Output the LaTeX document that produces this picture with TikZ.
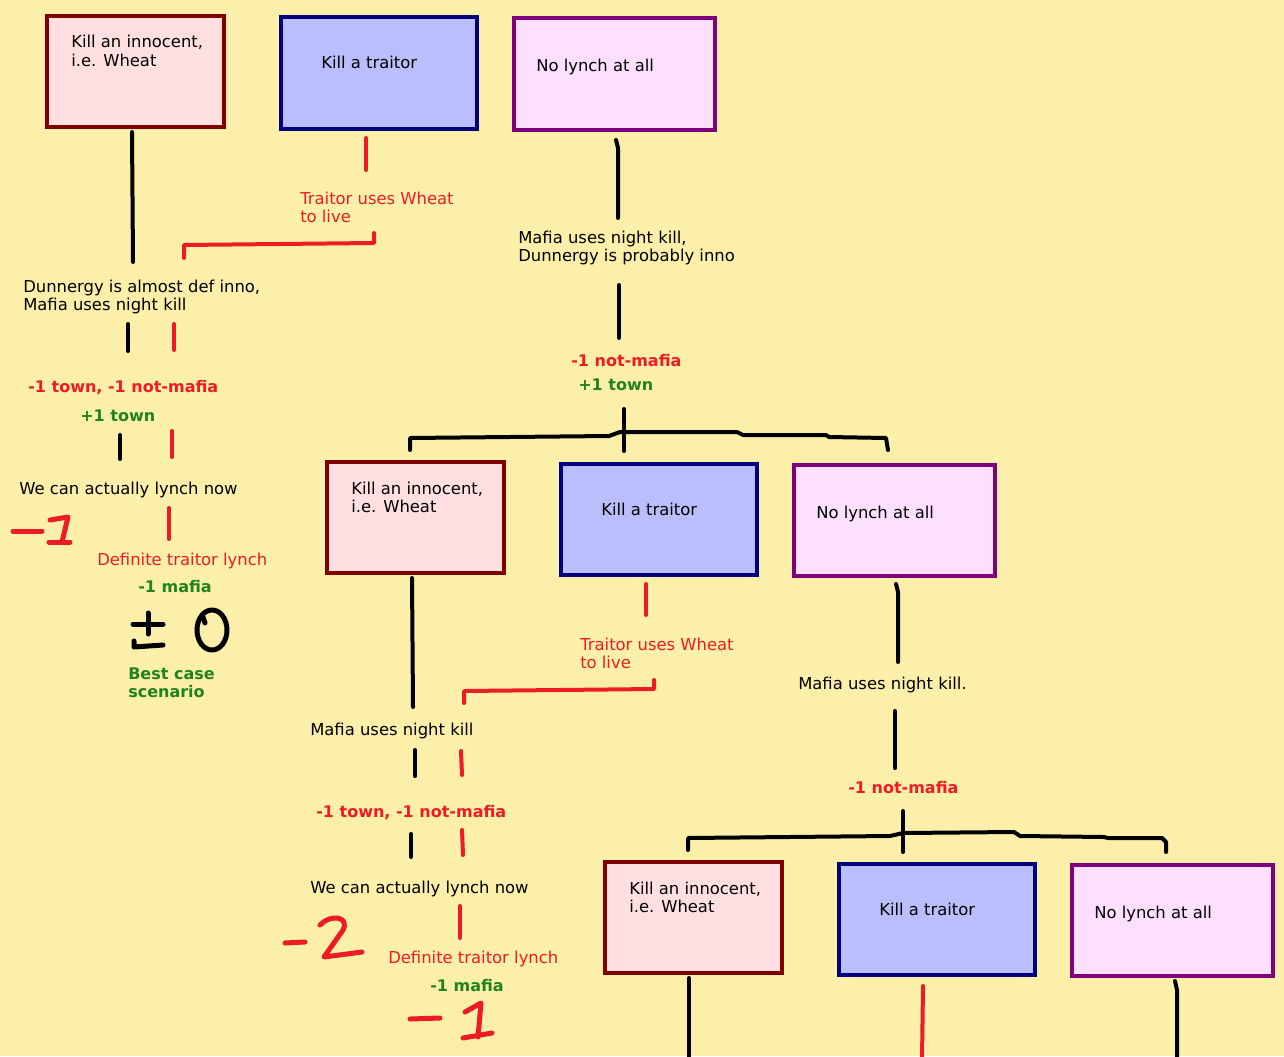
\documentclass[tikz,border=0pt]{standalone}
\usepackage{fontspec}
\setmainfont{DejaVu Sans}
\usetikzlibrary{positioning}

\definecolor{bg}{HTML}{FCEFA9}
\definecolor{innofill}{HTML}{FFDFDF}
\definecolor{innoline}{HTML}{800000}
\definecolor{traitorfill}{HTML}{BBBEFD}
\definecolor{traitorline}{HTML}{000080}
\definecolor{nolynchfill}{HTML}{FDDFFF}
\definecolor{nolynchline}{HTML}{7F007F}
\definecolor{paintred}{HTML}{ED1C24}
\definecolor{paintgreen}{HTML}{22821F}

\begin{document}
\begin{tikzpicture}[x=0.75pt, y=-0.75pt,
	box/.style={draw, line width=3pt, inner sep=0pt, minimum height=83.5pt},
	innobox/.style={box, draw=innoline, fill=innofill, minimum width=132.75pt},
	traitorbox/.style={box, draw=traitorline, fill=traitorfill, minimum width=147pt},
	nolynchbox/.style={box, draw=nolynchline, fill=nolynchfill, minimum width=150.75pt},
	txt/.style={inner sep=0pt, align=left, anchor=base west, font=\fontsize{12.3}{13.5}\selectfont},
	redtxt/.style={txt, text=paintred},
	loss/.style={txt, text=paintred, font=\fontsize{12}{13.5}\selectfont\bfseries},
	gain/.style={txt, text=paintgreen, font=\fontsize{12}{13.5}\selectfont\bfseries},
	blk/.style={line width=3pt, line cap=round, line join=round},
	rd/.style={blk, draw=paintred},
	scrawl/.style={line width=3.75pt, line cap=round, line join=round},
	]
	\fill[bg] (0,0) rectangle (1284,1056);
	\useasboundingbox (0,0) rectangle (1284,1056);
	
	% first choice
	\node[innobox] (inno1) at (135.5,71.5) {};
	\node[traitorbox] (traitor1) at (379,73) {};
	\node[nolynchbox] (nolynch1) at (614.5,74) {};
	\node[txt] (innotxt1) at (71,66) {Kill an innocent,\\i.e. Wheat};
	\node[txt] (traitortxt1) at (321,69) {Kill a traitor};
	\node[txt] (nolynchtxt1) at (536,72) {No lynch at all};
	
	\node[redtxt] (live1) at (300,222) {Traitor uses Wheat\\to live};
	\node[txt] (dunn) at (23,310) {Dunnergy is almost def inno,\\Mafia uses night kill};
	\node[loss] (loss1) at (28,392) {-1 town, -1 not-mafia};
	\node[gain] (gain1) at (80,421) {+1 town};
	\node[txt] (lynch1) at (19,494) {We can actually lynch now};
	\node[redtxt] (def1) at (97,565) {Definite traitor lynch};
	\node[gain] (mafia1) at (138,592) {-1 mafia};
	\node[gain] (best) at (128,697) {Best case\\scenario};
	
	\draw[blk] (132,132) -- (133,262);
	\draw[rd] (366,138) -- (366,170);
	\draw[rd] (374,233) -- (374,243) -- (184,245) -- (184,258);
	\draw[blk] (128,324) -- (128,351);
	\draw[rd] (174,324) -- (174,350);
	\draw[blk] (120,435) -- (120,459);
	\draw[rd] (172,431) -- (172,457);
	\draw[rd] (169,508) -- (169,539);
	
	% scribbled scores
	\draw[scrawl, paintred] (13,531) -- (42,531);
	\draw[scrawl, paintred] (50,520) -- (68,517) -- (62,542);
	\draw[scrawl, paintred] (49,542) -- (70,542);
	\draw[scrawl] (133,624) -- (163,624);
	\draw[scrawl] (148,613) -- (148,634);
	\draw[scrawl] (134,641) -- (134,647) -- (163,645);
	\draw[scrawl] (212,630) ellipse [x radius=15, y radius=20];
	\draw[scrawl] (203,617) -- (205,623);
	
	\node[txt] (night1) at (518,261) {Mafia uses night kill,\\Dunnergy is probably inno};
	\node[loss] (loss2) at (571,366) {-1 not-mafia};
	\node[gain] (gain2) at (578,390) {+1 town};
	
	\draw[blk] (616,140) -- (618,148) -- (618,218);
	\draw[blk] (619,285) -- (619,338);
	\draw[blk] (624,409) -- (624,451);
	\draw[blk] (410,450) -- (410,438) -- (609,436) -- (620,432) -- (737,432) -- (743,435)
		-- (826,435) -- (829,437) -- (886,438) -- (888,450);
	
	% second choice
	\node[innobox] (inno2) at (415.5,517.5) {};
	\node[traitorbox] (traitor2) at (659,519.5) {};
	\node[nolynchbox] (nolynch2) at (894.5,520.5) {};
	\node[txt] (innotxt2) at (351,512) {Kill an innocent,\\i.e. Wheat};
	\node[txt] (traitortxt2) at (601,515) {Kill a traitor};
	\node[txt] (nolynchtxt2) at (816,518) {No lynch at all};
	
	\node[redtxt] (live2) at (580,668) {Traitor uses Wheat\\to live};
	\node[txt] (night2) at (310,735) {Mafia uses night kill};
	\node[loss] (loss3) at (316,817) {-1 town, -1 not-mafia};
	\node[txt] (lynch2) at (310,893) {We can actually lynch now};
	\node[redtxt] (def2) at (388,963) {Definite traitor lynch};
	\node[gain] (mafia2) at (430,991) {-1 mafia};
	
	\draw[blk] (412,578) -- (413,707);
	\draw[rd] (646,584) -- (646,615);
	\draw[rd] (654,680) -- (654,689) -- (464,691) -- (464,703);
	\draw[blk] (415,750) -- (415,776);
	\draw[rd] (461,751) -- (462,775);
	\draw[blk] (411,834) -- (411,857);
	\draw[rd] (462,830) -- (463,855);
	\draw[rd] (460,906) -- (460,938);
	
	\draw[scrawl, paintred] (285,943) -- (305,942);
	\draw[scrawl, paintred] (320,925) .. controls (330,914) and (350,916) .. (343,930)
		-- (324,957) -- (362,952);
	\draw[scrawl, paintred] (410,1019) -- (440,1018);
	\draw[scrawl, paintred] (465,1012) -- (481,1003) -- (478,1037);
	\draw[scrawl, paintred] (463,1038) -- (492,1033);
	
	\node[txt] (night3) at (798,689) {Mafia uses night kill.};
	\node[loss] (loss4) at (848,793) {-1 not-mafia};
	
	\draw[blk] (896,584) -- (898,592) -- (898,662);
	\draw[blk] (895,711) -- (895,768);
	\draw[blk] (903,811) -- (903,852);
	\draw[blk] (688,850) -- (688,838) -- (890,836) -- (903,833) -- (1014,832) -- (1020,836)
		-- (1104,837) -- (1108,838) -- (1162,838) -- (1166,842) -- (1166,852);
	
	% third choice
	\node[innobox] (inno3) at (693.5,917.5) {};
	\node[traitorbox] (traitor3) at (937,919.5) {};
	\node[nolynchbox] (nolynch3) at (1172.5,920.5) {};
	\node[txt] (innotxt3) at (629,912) {Kill an innocent,\\i.e. Wheat};
	\node[txt] (traitortxt3) at (879,915) {Kill a traitor};
	\node[txt] (nolynchtxt3) at (1094,918) {No lynch at all};
	
	\draw[blk] (689,978) -- (689,1060);
	\draw[rd] (923,986) -- (922,1060);
	\draw[blk] (1175,981) -- (1177,990) -- (1177,1060);
\end{tikzpicture}
\end{document}
